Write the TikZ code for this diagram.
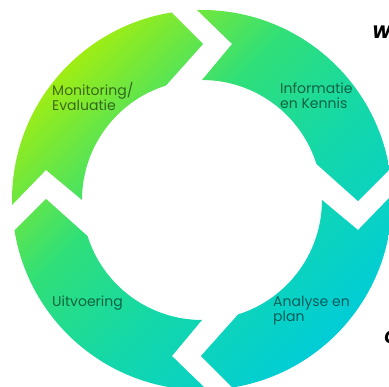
\documentclass[tikz,border=0pt]{standalone}
\usepackage{fontspec}
\setmainfont{Poppins}
\usepackage{tikz}
\usetikzlibrary{positioning}
\definecolor{ringlime}{HTML}{B4F000}
\definecolor{ringgreen}{HTML}{30DF78}
\definecolor{ringteal}{HTML}{14D8A8}
\definecolor{ringcyan}{HTML}{00CCDA}
\pgfdeclarehorizontalshading{cyclering}{100bp}{
    color(0bp)=(ringlime); color(22bp)=(ringlime);
    color(42bp)=(ringgreen); color(56bp)=(ringteal);
    color(76bp)=(ringcyan); color(100bp)=(ringcyan)}

\begin{document}
\begin{tikzpicture}[
    x=1pt, y=1pt,
    ring/.style={shading=cyclering, shading angle=-45},
    stage/.style={
        anchor=west, align=left, inner sep=0pt,
        text=black, text opacity=0.55,
        font=\fontsize{14}{15}\selectfont
    },
    cut/.style={
        anchor=west, inner sep=0pt,
        font=\fontsize{18}{18}\selectfont\bfseries\itshape
    }
]
\clip (-202,-187) rectangle (187,200);

% four arrow pieces of the cycle, one shading over all
\shade[ring] foreach \t in {90,0,-90,180} {
    ({\t+1.5}:190pt) arc[start angle=\t+1.5, end angle=\t-80.8, radius=190pt]
    -- ({\t-90.4}:156pt) -- ({\t-72.5}:120pt)
    arc[start angle=\t-72.5, end angle=\t, radius=120pt]
    -- ({\t-10.9}:158.9pt) -- cycle
};

\node[stage] (monitor) at (-150,104) {Monitoring/\\Evaluatie};
\node[stage] (info)    at (78,104)   {Informatie\\en Kennis};
\node[stage] (uitvoer) at (-150,-103) {Uitvoering};
\node[stage] (analyse) at (71,-111)  {Analyse en\\plan};

% text cut off at the right edge
\node[cut] (wtext) at (170,168)  {W};
\node[cut] (otext) at (182,-137) {O};
\end{tikzpicture}
\end{document}
